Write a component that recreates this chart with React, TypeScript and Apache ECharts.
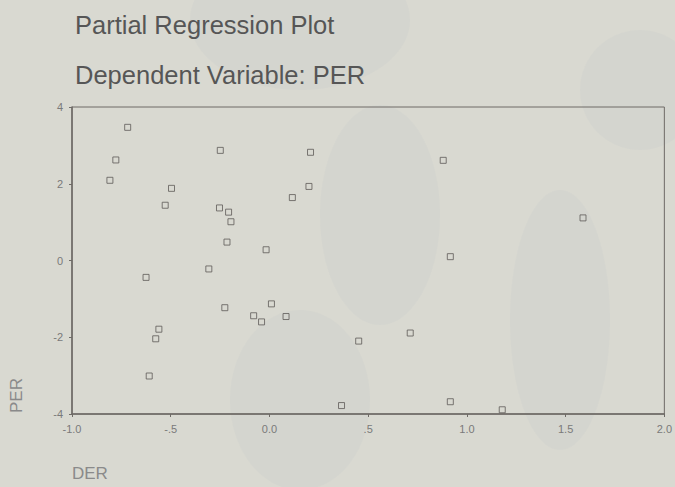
import React, { useEffect, useRef } from "react";
import * as echarts from "echarts";

const titleLines = ["Partial Regression Plot", "Dependent Variable: PER"];
const xName = "DER";
const yName = "PER";
const xTicks = [-1.0, -0.5, 0.0, 0.5, 1.0, 1.5, 2.0];
const xTickLabels = ["-1.0", "-.5", "0.0", ".5", "1.0", "1.5", "2.0"];
const yTickLabels = ["-4", "-2", "0", "2", "4"];

// DER residuals
const derValues = [
  -0.718, -0.778, -0.808, -0.496, -0.528, -0.249, -0.253, -0.207, -0.195, -0.215,
  -0.017, 0.208, 0.200, 0.116, 0.880, 1.588, 0.916, -0.307, -0.625, -0.226,
  -0.080, -0.040, 0.010, 0.084, -0.560, -0.576, -0.609, 0.452, 0.713, 0.365,
  0.916, 1.179,
];
// PER residuals
const perValues = [
  3.47, 2.62, 2.09, 1.88, 1.44, 2.87, 1.37, 1.26, 1.01, 0.48,
  0.28, 2.82, 1.93, 1.64, 2.61, 1.11, 0.10, -0.22, -0.44, -1.23,
  -1.44, -1.60, -1.13, -1.46, -1.79, -2.04, -3.01, -2.10, -1.89, -3.78,
  -3.68, -3.89,
];

export default function App() {
  const ref = useRef<HTMLDivElement>(null);
  useEffect(() => {
    document.body.style.margin = "0";
    const chart = echarts.init(ref.current!, null, { renderer: "svg" });
    const data = derValues.map((d, i) => [d, perValues[i]]);
    const font = "Liberation Sans, Arial, sans-serif";
    const wm = "rgba(175,183,195,0.10)";
    chart.setOption({
      animation: false,
      backgroundColor: "#d9d9d1",
      grid: {
        left: 72,
        right: 8,
        top: 107,
        bottom: 73,
        show: true,
        borderColor: "#6e6a66",
        borderWidth: 1,
        backgroundColor: "transparent",
      },
      graphic: [
        { type: "ellipse", shape: { cx: 300, cy: 20, rx: 110, ry: 70 }, style: { fill: wm }, silent: true, z: -10 },
        { type: "ellipse", shape: { cx: 380, cy: 215, rx: 60, ry: 110 }, style: { fill: wm }, silent: true, z: -10 },
        { type: "ellipse", shape: { cx: 300, cy: 400, rx: 70, ry: 90 }, style: { fill: wm }, silent: true, z: -10 },
        { type: "ellipse", shape: { cx: 560, cy: 320, rx: 50, ry: 130 }, style: { fill: wm }, silent: true, z: -10 },
        { type: "ellipse", shape: { cx: 640, cy: 90, rx: 60, ry: 60 }, style: { fill: wm }, silent: true, z: -10 },
        {
          type: "text",
          left: 75,
          top: 12,
          style: { text: titleLines[0], fontSize: 25.5, fill: "#565656", fontFamily: font },
        },
        {
          type: "text",
          left: 75,
          top: 62,
          style: { text: titleLines[1], fontSize: 25.5, fill: "#565656", fontFamily: font },
        },
        {
          type: "text",
          x: 72,
          y: 465,
          style: { text: xName, fontSize: 17, fill: "#8a8a8a", fontFamily: font },
        },
        {
          type: "text",
          x: 8,
          y: 413,
          rotation: Math.PI / 2,
          style: { text: yName, fontSize: 17, fill: "#8a8a8a", fontFamily: font },
        },
      ],
      xAxis: {
        type: "value",
        min: -1,
        max: 2,
        interval: 0.5,
        splitLine: { show: false },
        axisLine: { show: true, onZero: false, lineStyle: { color: "#6e6a66", width: 1.5 } },
        axisTick: { show: true, length: 3, lineStyle: { color: "#6e6a66" } },
        axisLabel: {
          fontSize: 11,
          color: "#7a7a7a",
          fontFamily: font,
          margin: 9,
          formatter: (v: number) => {
            const i = xTicks.findIndex((t) => Math.abs(t - v) < 1e-6);
            return i >= 0 ? xTickLabels[i] : "";
          },
        },
      },
      yAxis: {
        type: "value",
        min: -4,
        max: 4,
        interval: 2,
        splitLine: { show: false },
        axisLine: { show: true, onZero: false, lineStyle: { color: "#6e6a66", width: 1.5 } },
        axisTick: { show: true, length: 3, lineStyle: { color: "#6e6a66" } },
        axisLabel: {
          fontSize: 11,
          color: "#7a7a7a",
          fontFamily: font,
          margin: 9,
          formatter: (v: number) => {
            const s = String(Math.round(v));
            return yTickLabels.includes(s) ? s : "";
          },
        },
      },
      series: [
        {
          type: "scatter",
          data,
          symbol: "rect",
          symbolSize: 6,
          itemStyle: { color: "transparent", borderColor: "#5e5a58", borderWidth: 1 },
        },
      ],
    });
    return () => chart.dispose();
  }, []);
  return <div ref={ref} style={{ width: 675, height: 487 }} />;
}
